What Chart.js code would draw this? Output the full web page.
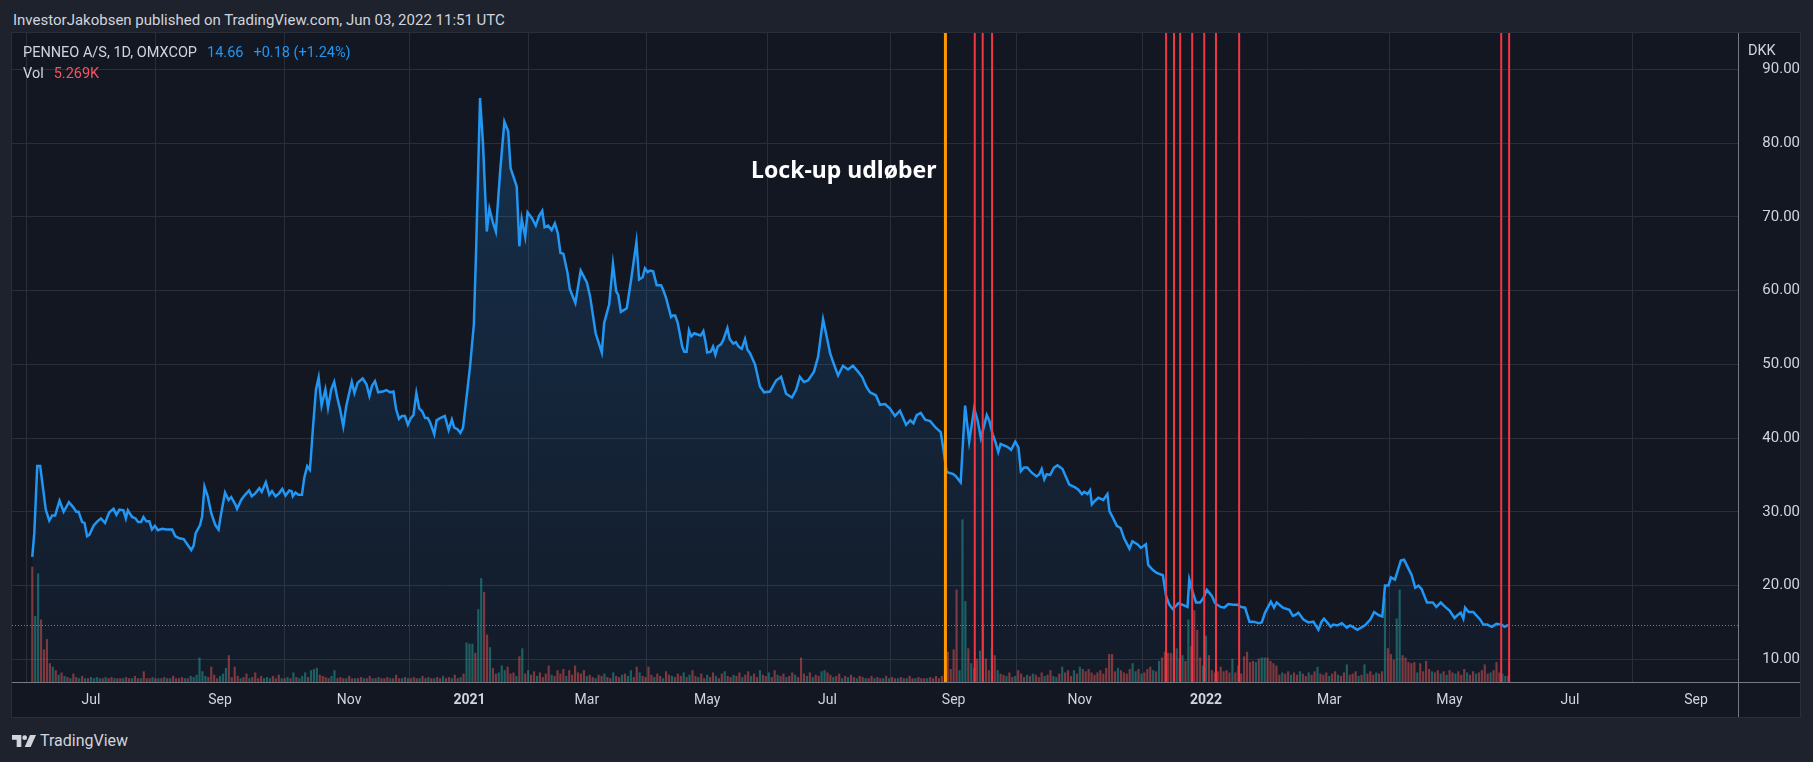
<!DOCTYPE html>
<html>
<head>
<meta charset="utf-8">
<script src="https://cdn.jsdelivr.net/npm/chart.js@4.4.1/dist/chart.umd.min.js"></script>
<style>
html, body { margin: 0; padding: 0; width: 1813px; height: 762px; overflow: hidden; background: #1e222d; font-family: Roboto, "Noto Sans", sans-serif; }
#panel { position: absolute; left: 12px; top: 33px; width: 1788px; height: 684px; background: #131722; box-shadow: 0 0 0 1px #2a2e39; }
#panel canvas { display: block; }
.t { position: absolute; white-space: nowrap; color: #d1d4dc; font-size: 14.5px; line-height: 18px; }
.blue { color: #2196f3; margin-left: 10px; }
.red { color: #f7525f; margin-left: 10px; }
</style>
</head>
<body>
<div class="t" style="left:13px;top:11px;font-size:15px;">InvestorJakobsen published on TradingView.com, Jun 03, 2022 11:51 UTC</div>
<div id="panel"><canvas id="chart" width="1788" height="684"></canvas></div>
<div class="t" style="left:23px;top:44px;">PENNEO A/S, 1D, OMXCOP<span class="blue">14.66</span><span class="blue">+0.18 (+1.24%)</span></div>
<div class="t" style="left:23px;top:65px;">Vol<span class="red">5.269K</span></div>
<div class="t" style="left:1748px;top:42px;">DKK</div>
<svg style="position:absolute;left:12px;top:735px" width="24" height="12" viewBox="0 0 36 18">
  <path d="M0 0h14v18H7V7H0z" fill="#d1d4dc"/><circle cx="19" cy="4" r="3.6" fill="#d1d4dc"/><path d="M27 0h9l-8 18h-9z" fill="#d1d4dc"/>
</svg>
<div class="t" style="left:40px;top:731px;font-size:16px;line-height:20px;">TradingView</div>
<script>
// x = trading-day index since listing (0 = first bar, Jun 2020)
const monthTickDays = [20, 64, 108, 149, 189, 230, 271, 314, 357, 400, 442, 483, 524, 567];
const monthTickLabels = ['Jul', 'Sep', 'Nov', '2021', 'Mar', 'May', 'Jul', 'Sep', 'Nov', '2022', 'Mar', 'May', 'Jul', 'Sep'];
const priceTicks = [10, 20, 30, 40, 50, 60, 70, 80, 90];

// daily close (DKK): [trading day, close]
const closes = [
  [0, 23.9], [0.7, 27.1], [1.7, 36.2], [2.7, 36.2], [3.9, 32.5], [4.6, 30.3], [5.8, 28.8], [6.8, 29.5], [7.8, 29.5], [9.3, 31.5],
  [10.7, 30.0], [12.5, 31.3], [14.0, 30.6], [15.0, 30.0], [15.8, 30.0], [17.0, 28.6], [17.8, 28.5], [18.7, 26.7], [19.5, 26.9], [20.9, 28.1],
  [22.2, 28.7], [23.4, 29.1], [24.8, 28.5], [26.2, 29.9], [27.7, 30.4], [28.7, 29.6], [29.7, 30.3], [31.1, 30.2], [31.9, 29.1], [32.6, 30.2],
  [34.0, 29.3], [35.2, 29.1], [36.1, 28.6], [37.1, 28.6], [37.9, 29.3], [38.9, 28.7], [39.9, 28.7], [40.8, 27.6], [41.8, 28.1], [42.8, 27.5],
  [44.3, 27.7], [45.7, 27.6], [46.9, 27.6], [47.7, 27.6], [48.7, 26.7], [50.1, 26.4], [51.6, 26.3], [53.0, 25.5], [54.2, 24.8], [55.0, 25.4],
  [55.7, 27.1], [57.2, 28.2], [57.9, 29.4], [58.7, 33.4], [59.8, 32.1], [61.0, 29.8], [62.4, 28.2], [63.5, 27.6], [64.3, 29.6], [65.7, 32.6],
  [66.9, 31.6], [67.8, 32.0], [69.2, 31.0], [69.8, 30.4], [71.2, 31.6], [72.3, 32.2], [73.9, 32.9], [74.8, 32.1], [76.0, 32.5], [77.4, 33.2],
  [78.2, 32.7], [79.6, 34.0], [80.8, 32.3], [81.7, 32.8], [82.9, 32.1], [84.1, 32.5], [85.2, 33.1], [86.3, 32.2], [87.6, 32.9], [88.4, 32.8],
  [88.8, 32.1], [89.7, 32.6], [90.7, 32.3], [91.9, 32.3], [92.7, 34.6], [93.7, 36.2], [94.6, 35.7], [94.9, 37.1], [95.7, 41.6], [96.7, 46.6],
  [97.6, 48.2], [98.6, 44.4], [99.9, 46.6], [100.8, 44.1], [101.9, 46.6], [102.9, 47.6], [104.0, 45.4], [104.9, 43.9], [106.0, 41.6], [107.0, 44.3],
  [108.0, 46.1], [108.9, 47.6], [109.8, 46.1], [110.9, 47.5], [112.6, 48.1], [113.9, 47.3], [114.9, 45.7], [115.8, 47.1], [116.8, 47.7], [117.9, 46.2],
  [119.4, 46.3], [120.7, 46.5], [122.0, 46.2], [123.1, 46.3], [124.0, 43.9], [125.0, 42.6], [126.0, 43.0], [127.0, 43.0], [128.0, 41.8], [129.0, 42.7],
  [129.9, 43.1], [130.9, 46.1], [131.9, 44.0], [132.9, 43.6], [133.9, 42.7], [134.8, 42.7], [135.6, 42.1], [137.0, 40.5], [137.8, 42.4], [139.0, 42.7],
  [140.6, 43.0], [141.9, 41.1], [143.0, 42.5], [143.8, 41.4], [144.9, 41.2], [145.9, 40.7], [146.8, 41.4], [147.8, 44.8], [149.2, 49.7], [150.5, 55.4],
  [151.3, 66.0], [152.6, 86.1], [153.6, 80.0], [154.9, 68.0], [155.8, 71.1], [157.0, 69.2], [158.0, 68.0], [159.5, 76.4], [160.9, 82.9], [162.2, 81.6],
  [163.0, 76.6], [165.1, 74.1], [166.0, 66.0], [166.8, 69.7], [168.0, 67.3], [168.8, 70.6], [170.3, 69.8], [171.6, 68.8], [172.7, 70.1], [173.8, 70.8],
  [174.6, 68.6], [175.8, 68.8], [177.0, 68.2], [178.1, 69.1], [179.1, 67.8], [180.0, 65.1], [181.0, 65.0], [182.4, 62.4], [183.2, 60.2], [185.1, 58.3],
  [186.9, 62.7], [189.0, 61.1], [190.1, 59.2], [192.0, 54.2], [194.1, 51.6], [194.9, 55.6], [196.6, 58.1], [197.9, 63.6], [199.0, 59.9], [199.7, 59.4],
  [200.6, 57.1], [202.6, 57.6], [204.1, 61.5], [205.9, 66.6], [206.8, 61.5], [208.0, 61.8], [208.8, 63.0], [209.7, 62.5], [210.5, 62.7], [211.6, 62.6],
  [212.8, 60.7], [214.3, 60.7], [215.0, 60.1], [216.0, 59.0], [217.7, 56.4], [218.3, 56.6], [219.1, 56.6], [220.0, 55.6], [221.5, 52.4], [222.2, 51.7],
  [223.0, 51.7], [223.8, 54.6], [224.6, 53.8], [225.6, 54.2], [227.0, 54.0], [227.8, 53.9], [228.7, 54.5], [229.5, 52.9], [230.0, 51.6], [231.2, 51.7],
  [232.0, 52.4], [232.8, 51.3], [233.6, 52.4], [234.7, 52.7], [235.5, 53.3], [236.9, 54.9], [237.7, 53.4], [238.9, 52.8], [239.8, 53.0], [240.7, 52.4],
  [241.8, 52.1], [242.9, 53.4], [243.7, 52.0], [244.6, 51.5], [246.3, 50.0], [248.0, 47.0], [249.4, 46.2], [251.4, 46.3], [253.5, 47.8], [255.2, 48.3],
  [256.9, 46.0], [258.9, 45.5], [260.3, 46.5], [261.6, 48.3], [263.0, 47.6], [264.4, 47.8], [266.4, 49.0], [267.8, 51.0], [269.5, 56.1], [270.5, 54.2],
  [271.9, 51.5], [273.2, 50.0], [274.6, 48.5], [276.3, 49.8], [278.0, 49.3], [279.7, 49.8], [281.4, 49.0], [282.8, 48.3], [284.2, 47.0], [285.5, 46.2],
  [287.5, 45.8], [288.9, 44.5], [290.6, 44.6], [292.3, 44.0], [294.0, 43.0], [295.7, 43.7], [297.8, 41.8], [299.2, 42.4], [300.3, 42.0], [301.4, 43.1],
  [302.8, 43.4], [304.3, 42.5], [306.0, 42.3], [307.9, 41.4], [309.6, 40.8], [310.5, 38.5], [311.6, 35.4], [313.9, 35.1], [314.8, 34.8], [316.4, 34.0],
  [317.9, 44.4], [319.3, 39.5], [321.0, 44.0], [322.1, 42.5], [323.3, 40.0], [324.1, 41.2], [325.3, 43.1], [326.2, 42.3], [327.3, 40.5], [328.2, 39.5],
  [329.2, 38.1], [330.0, 39.2], [332.3, 38.8], [333.6, 38.4], [335.0, 39.5], [336.1, 38.7], [336.9, 35.5], [338.0, 36.0], [339.1, 36.0], [340.6, 35.3],
  [342.3, 34.8], [343.2, 35.1], [344.0, 35.8], [344.9, 34.4], [345.7, 35.1], [346.9, 35.0], [348.2, 36.0], [349.4, 36.3], [351.1, 35.8], [352.2, 34.8],
  [353.4, 33.7], [355.4, 33.3], [356.5, 33.0], [357.7, 32.4], [358.5, 32.7], [359.6, 32.4], [360.5, 32.9], [361.1, 31.0], [362.2, 31.5], [363.3, 31.9],
  [365.0, 31.6], [366.4, 32.4], [367.1, 30.1], [368.4, 29.1], [369.6, 28.1], [370.9, 27.8], [372.1, 26.4], [373.9, 25.0], [374.9, 26.0], [376.6, 25.6],
  [377.8, 25.1], [379.5, 25.6], [380.3, 22.8], [381.9, 22.1], [383.2, 21.7], [385.3, 21.4], [386.4, 18.6], [387.5, 17.4], [388.7, 16.8], [390.6, 17.6],
  [392.5, 17.3], [393.7, 17.1], [394.3, 20.8], [395.4, 19.2], [396.6, 17.7], [398.0, 17.7], [399.1, 18.3], [400.3, 19.4], [402.0, 18.6], [403.1, 17.6],
  [405.0, 17.1], [406.2, 17.0], [407.6, 17.5], [409.3, 17.4], [410.7, 17.4], [411.9, 17.1], [413.3, 17.0], [414.8, 15.1], [416.2, 15.1], [417.9, 14.9],
  [419.0, 15.0], [420.1, 16.3], [422.1, 17.8], [423.2, 17.0], [424.1, 17.7], [426.2, 17.0], [428.4, 16.7], [429.6, 15.9], [430.4, 16.0], [431.5, 16.3],
  [433.2, 15.4], [434.9, 15.0], [436.6, 15.1], [438.3, 14.0], [439.4, 15.1], [440.2, 15.5], [441.5, 14.9], [442.5, 14.4], [443.4, 14.7], [444.8, 14.6],
  [446.3, 14.9], [448.0, 14.3], [449.1, 14.6], [450.0, 14.4], [451.6, 14.0], [454.2, 14.6], [456.0, 15.4], [457.3, 16.4], [458.8, 16.0], [460.1, 15.8],
  [461.0, 20.0], [462.2, 20.0], [463.0, 21.1], [464.4, 20.8], [466.4, 23.4], [467.5, 23.5], [469.0, 22.3], [470.1, 21.4], [471.3, 19.7], [472.4, 20.0],
  [473.5, 19.5], [475.3, 17.7], [477.3, 17.7], [478.5, 17.1], [480.0, 17.7], [481.5, 17.1], [483.0, 16.6], [484.7, 15.6], [485.5, 15.9], [486.8, 16.3],
  [487.7, 15.5], [488.3, 17.0], [489.5, 16.4], [491.1, 16.4], [493.4, 15.4], [494.5, 14.7], [495.8, 14.7], [497.4, 14.4], [499.0, 14.8], [500.7, 14.7],
  [501.8, 14.4], [503.0, 14.66]
];

// daily volume, thousands of shares, one per trading day from day 0
const volumeK = [
  100, 57, 94, 54, 28, 37, 16, 13, 10, 6,   8, 5, 4, 3, 7, 4, 3, 5, 3, 3,
  4, 3, 4, 3, 3, 4, 3, 4, 3, 3,   3, 3, 4, 3, 3, 5, 3, 3, 9, 3,
  3, 4, 3, 3, 3, 4, 3, 3, 5, 3,   3, 4, 3, 3, 5, 4, 6, 21, 9, 5,
  4, 13, 6, 3, 5, 7, 12, 23, 4, 13,   5, 3, 4, 7, 3, 4, 8, 3, 5, 3,
  4, 3, 5, 3, 6, 3, 3, 4, 3, 8,   4, 3, 5, 8, 4, 10, 11, 12, 6, 5,
  4, 3, 5, 10, 3, 4, 3, 3, 5, 3,   3, 3, 4, 3, 3, 5, 3, 3, 4, 3,
  3, 4, 3, 3, 6, 3, 3, 4, 3, 3,   4, 3, 3, 5, 3, 4, 3, 3, 4, 3,
  5, 3, 4, 3, 6, 3, 4, 7, 34, 33,   33, 25, 63, 90, 78, 41, 30, 12, 7, 8,
  14, 10, 13, 7, 8, 5, 22, 29, 7, 10,   6, 9, 5, 8, 4, 7, 14, 6, 5, 10,
  7, 11, 5, 10, 6, 14, 8, 7, 10, 5,   6, 4, 3, 6, 5, 7, 4, 3, 8, 5,
  4, 6, 7, 5, 10, 4, 13, 8, 5, 4,   13, 6, 4, 7, 5, 3, 9, 6, 5, 4,
  7, 5, 8, 4, 6, 10, 5, 4, 7, 3,   6, 4, 8, 5, 3, 7, 9, 5, 4, 6,
  5, 8, 4, 6, 9, 5, 7, 4, 10, 6,   5, 8, 4, 10, 6, 5, 7, 4, 5, 8,
  6, 4, 21, 7, 5, 8, 4, 6, 5, 9,   10, 8, 6, 4, 5, 7, 3, 5, 4, 6,
  4, 3, 5, 4, 3, 3, 5, 3, 4, 3,   3, 5, 3, 4, 3, 3, 4, 3, 3, 5,
  3, 3, 4, 3, 3, 3, 4, 3, 5, 3,   5, 7, 26, 11, 28, 80, 10, 141, 70, 29,
  16, 12, 20, 27, 49, 20, 10, 29, 23, 10,   7, 6, 5, 8, 4, 5, 10, 7, 4, 6,
  5, 7, 6, 4, 8, 5, 6, 10, 5, 4,   7, 13, 8, 10, 5, 10, 7, 13, 11, 9,
  11, 8, 6, 8, 10, 7, 12, 24, 24, 9,   12, 10, 8, 7, 11, 16, 9, 11, 7, 8,
  11, 13, 10, 9, 18, 21, 26, 25, 25, 23,   29, 20, 23, 18, 54, 31, 62, 45, 21, 14,
  40, 23, 10, 8, 9, 13, 9, 10, 8, 20,   8, 14, 7, 22, 26, 17, 18, 17, 20, 21,
  21, 21, 18, 16, 14, 6, 8, 7, 9, 6,   8, 6, 9, 7, 5, 8, 6, 9, 13, 7,
  6, 8, 5, 7, 9, 6, 5, 8, 15, 6,   7, 9, 5, 6, 15, 7, 9, 6, 8, 7,
  9, 73, 29, 24, 19, 55, 80, 23, 21, 17,   16, 17, 8, 16, 9, 18, 11, 9, 8, 10,
  7, 9, 6, 10, 8, 7, 9, 6, 11, 8,   6, 9, 7, 8, 10, 15, 7, 8, 10, 17,
  8, 7, 5, 5.269
];
// g = up day, r = down day
const volumeDir = [
  'rggrrrrgrg', 'rgrgrrgrgr', 'ggggrgrrgr', 'rgrrgrrgrr', 'rgrgrgrgrr', 'rrgrgggggg', 'rrrrgggrrr', 'rgrrgrrrrg',
  'ggrrrgrgrg', 'rgggrgggrr', 'rrggrrrgrr', 'grrgrrgrgr', 'rrgrrrgrgr', 'rrgrrgrgrr', 'grrgrrgrgg', 'grggrrgrrg',
  'ggrrrgrgrg', 'rrgrrrrgrr', 'rrgrrrrrrg', 'rrgrrgrrgr', 'rgrggrrgrr', 'rrgrrgrrgr', 'rrgrgrrgrr', 'grrgrrgrrg',
  'rrgrrgrrgr', 'rgrrgrrgrr', 'grrrgrgrrg', 'grrgrrgrgr', 'rgrrgrrgrr', 'grgrrgrrgr', 'rgrrrgrrrr', 'rrrrrrgggr',
  'grrggrrgrg', 'rrgrrgrrrg', 'rgrrrgrrgg', 'rgrrrgrgrr', 'rrrrrrrrrr', 'grrrrggrgr', 'rrgrgrrrrr', 'grgrgrrrrg',
  'grrrrrrrrg', 'rrrrrrrgrg', 'grrrrrgrrg', 'rrgrrgrrgr', 'rrgrrgrrgr', 'rrgrgrrrgr', 'rgrrrggrrr', 'rrgrrrrgrr',
  'grgrrgrrrg', 'rrgrrrrgrr', 'rggr'
].join('');

const lockupDay = 311.2;
const lockupLabel = 'Lock-up udløber';
const lockupLabelPrice = 76.1;
const insiderSaleDays = [321.2, 323.9, 327.1, 386.4, 389.1, 391.2, 395.3, 399.4, 403.4, 411.3, 500.6, 503.3];

const dayMin = -6.9, dayMax = 581.3;
const priceMin = 6.92, priceMax = 94.92;
const volumeMax = 564;
const lastClose = closes[closes.length - 1][1];

const upColor = 'rgba(38,166,154,0.5)';
const downColor = 'rgba(239,83,80,0.5)';

const overlay = {
  id: 'overlay',
  afterDatasetsDraw(chart) {
    const { ctx, chartArea: a, scales: { x, y } } = chart;
    ctx.save();
    // last price line
    const py = Math.round(y.getPixelForValue(lastClose)) + 0.5;
    ctx.setLineDash([1, 2]);
    ctx.strokeStyle = '#2196f3';
    ctx.lineWidth = 1;
    ctx.beginPath(); ctx.moveTo(a.left, py); ctx.lineTo(a.right, py); ctx.stroke();
    ctx.setLineDash([]);
    // insider sales + lock-up
    ctx.strokeStyle = '#f23645';
    ctx.lineWidth = 2;
    insiderSaleDays.forEach(d => {
      const px = x.getPixelForValue(d);
      ctx.beginPath(); ctx.moveTo(px, a.top); ctx.lineTo(px, a.bottom); ctx.stroke();
    });
    const lx = x.getPixelForValue(lockupDay);
    ctx.strokeStyle = '#ff9800';
    ctx.lineWidth = 3;
    ctx.beginPath(); ctx.moveTo(lx, a.top); ctx.lineTo(lx, a.bottom); ctx.stroke();
    ctx.fillStyle = '#ffffff';
    ctx.font = 'bold 23px "Noto Sans"';
    ctx.textAlign = 'right';
    ctx.textBaseline = 'middle';
    ctx.fillText(lockupLabel, lx - 9, y.getPixelForValue(lockupLabelPrice));
    // axis separators
    ctx.strokeStyle = '#787b86';
    ctx.lineWidth = 1;
    ctx.beginPath();
    ctx.moveTo(Math.round(a.right) + 0.5, 0); ctx.lineTo(Math.round(a.right) + 0.5, chart.height);
    ctx.moveTo(0, Math.round(a.bottom) + 0.5); ctx.lineTo(chart.width, Math.round(a.bottom) + 0.5);
    ctx.stroke();
    ctx.restore();
  }
};

new Chart(document.getElementById('chart'), {
  type: 'line',
  data: {
    datasets: [
      {
        type: 'line',
        label: 'PENNEO A/S',
        data: closes.map(([d, v]) => ({ x: d, y: v })),
        yAxisID: 'y',
        borderColor: '#2196f3',
        borderWidth: 2.5,
        pointRadius: 0,
        tension: 0,
        fill: 'start',
        backgroundColor: (c) => {
          const a = c.chart.chartArea;
          if (!a) return 'rgba(33,150,243,0.1)';
          const g = c.chart.ctx.createLinearGradient(0, a.top, 0, a.bottom);
          g.addColorStop(0, 'rgba(33,150,243,0.22)');
          g.addColorStop(1, 'rgba(33,150,243,0.03)');
          return g;
        },
        order: 1
      },
      {
        type: 'bar',
        label: 'Vol',
        data: volumeK.map((v, i) => ({ x: i, y: v })),
        yAxisID: 'yv',
        backgroundColor: volumeK.map((v, i) => volumeDir[i] === 'g' ? upColor : downColor),
        barThickness: 1.5,
        order: 2
      }
    ]
  },
  options: {
    responsive: false,
    animation: false,
    devicePixelRatio: 1,
    layout: { padding: 0 },
    plugins: { legend: { display: false }, tooltip: { enabled: false } },
    scales: {
      x: {
        type: 'linear',
        min: dayMin,
        max: dayMax,
        offset: false,
        afterBuildTicks: s => { s.ticks = monthTickDays.map(v => ({ value: v })); },
        afterFit: s => { s.height = 35; s.paddingLeft = 0; s.paddingRight = 0; },
        grid: { color: '#2a2e39', drawTicks: false },
        border: { display: false },
        ticks: {
          autoSkip: false,
          maxRotation: 0,
          padding: 10,
          color: '#d1d4dc',
          font: c => ({ family: 'Roboto', size: 14, weight: /^\d{4}$/.test(monthTickLabels[c.index]) ? 'bold' : 'normal' }),
          callback: (v, i) => monthTickLabels[i]
        }
      },
      y: {
        position: 'right',
        min: priceMin,
        max: priceMax,
        afterBuildTicks: s => { s.ticks = priceTicks.map(v => ({ value: v })); },
        afterFit: s => { s.width = 62; s.paddingTop = 0; s.paddingBottom = 0; },
        grid: { color: '#2a2e39', drawTicks: false },
        border: { display: false },
        ticks: {
          autoSkip: false,
          padding: 12,
          crossAlign: 'far',
          color: '#d1d4dc',
          font: { family: 'Roboto', size: 15 },
          callback: v => v.toFixed(2)
        }
      },
      yv: { display: false, min: 0, max: volumeMax }
    }
  },
  plugins: [overlay]
});
</script>
</body>
</html>
